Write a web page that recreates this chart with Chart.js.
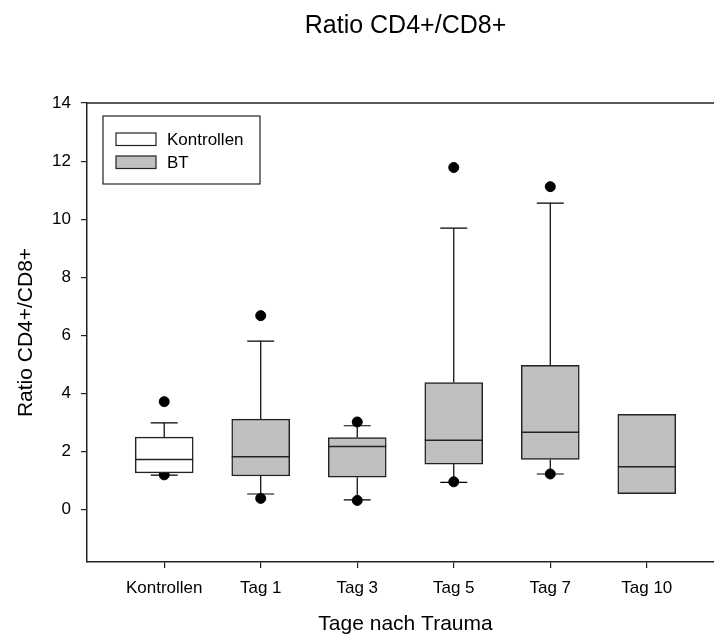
<!DOCTYPE html>
<html>
<head>
<meta charset="utf-8">
<title>Ratio CD4+/CD8+</title>
<script src="https://cdn.jsdelivr.net/npm/chart.js@4.4.1/dist/chart.umd.min.js"></script>
<style>
  html, body { margin: 0; padding: 0; background: #fff; overflow: hidden; }
  canvas { display: block; }
</style>
</head>
<body>
<canvas id="ratioChart" width="730" height="637"></canvas>
<script>
// Kennwerte der Boxplots je Gruppe
var kategorien = ['Kontrollen', 'Tag 1', 'Tag 3', 'Tag 5', 'Tag 7', 'Tag 10'];
var whiskerUnten = [1.19, 0.54, 0.34, 0.94, 1.23, null];
var quartil1 = [1.27, 1.16, 1.12, 1.57, 1.73, 0.55];
var median = [1.73, 1.82, 2.18, 2.39, 2.67, 1.48];
var quartil3 = [2.50, 3.12, 2.48, 4.38, 4.97, 3.28];
var whiskerOben = [2.99, 5.80, 2.89, 9.69, 10.55, null];
var ausreisserUnten = [1.20, 0.39, 0.32, 0.96, 1.23, null];
var ausreisserOben = [3.72, 6.68, 3.02, 11.78, 11.12, null];
var yTicks = [0, 2, 4, 6, 8, 10, 12, 14];

var linienFarbe = '#222';

Chart.defaults.font.family = "'Liberation Sans', Arial, sans-serif";
Chart.defaults.color = '#000';

// Boxen als schwebende Balken: [Q1, Q3]
function boxDaten(indices) {
    return indices.map(function(i) {
        return { x: i, y: [quartil1[i], quartil3[i]] };
    });
}

var punkte = [];
kategorien.forEach(function(k, i) {
    if (ausreisserUnten[i] != null) punkte.push({ x: i, y: ausreisserUnten[i] });
    if (ausreisserOben[i] != null) punkte.push({ x: i, y: ausreisserOben[i] });
});

// Whisker, Mediane, Rahmen oben und Legende
var boxplotPlugin = {
    id: 'boxplot',
    beforeDatasetsDraw: function(chart) {
        var ctx = chart.ctx, sx = chart.scales.x, sy = chart.scales.y;
        ctx.save();
        ctx.strokeStyle = '#000';
        ctx.lineWidth = 1.2;
        kategorien.forEach(function(k, i) {
            var px = sx.getPixelForValue(i);
            [[quartil1[i], whiskerUnten[i]], [quartil3[i], whiskerOben[i]]].forEach(function(p) {
                if (p[1] == null) return;
                var y0 = sy.getPixelForValue(p[0]);
                var y1 = sy.getPixelForValue(p[1]);
                ctx.beginPath();
                ctx.moveTo(px, y0);
                ctx.lineTo(px, y1);
                ctx.moveTo(px - 13.5, y1);
                ctx.lineTo(px + 13.5, y1);
                ctx.stroke();
            });
        });
        ctx.restore();
    },
    afterDatasetsDraw: function(chart) {
        var ctx = chart.ctx, sy = chart.scales.y;
        ctx.save();
        ctx.strokeStyle = linienFarbe;
        ctx.lineWidth = 1.5;
        chart.data.datasets.forEach(function(ds, d) {
            if (ds.type === 'scatter') return;
            var meta = chart.getDatasetMeta(d);
            meta.data.forEach(function(el, j) {
                var i = ds.data[j].x;
                var py = sy.getPixelForValue(median[i]);
                ctx.beginPath();
                ctx.moveTo(el.x - el.width / 2, py);
                ctx.lineTo(el.x + el.width / 2, py);
                ctx.stroke();
            });
        });
        // obere Rahmenlinie
        var a = chart.chartArea;
        ctx.lineWidth = 1.5;
        ctx.beginPath();
        ctx.moveTo(a.left, a.top);
        ctx.lineTo(a.right, a.top);
        ctx.stroke();
        ctx.restore();
    },
    afterDraw: function(chart) {
        var ctx = chart.ctx, a = chart.chartArea;
        var lx = a.left + 16, ly = a.top + 13;
        ctx.save();
        ctx.strokeStyle = linienFarbe;
        ctx.lineWidth = 1.2;
        ctx.fillStyle = '#fff';
        ctx.fillRect(lx, ly, 157, 68);
        ctx.strokeRect(lx, ly, 157, 68);
        ctx.font = "17px 'Liberation Sans', Arial, sans-serif";
        ctx.textBaseline = 'middle';
        chart.data.datasets.forEach(function(ds, d) {
            if (ds.type === 'scatter') return;
            var sy = ly + 17 + d * 23;
            ctx.fillStyle = ds.backgroundColor;
            ctx.fillRect(lx + 13, sy, 40, 12.5);
            ctx.strokeRect(lx + 13, sy, 40, 12.5);
            ctx.fillStyle = '#000';
            ctx.fillText(ds.label, lx + 64, sy + 7);
        });
        ctx.restore();
    }
};

var ctx = document.getElementById('ratioChart').getContext('2d');
var ratioChart = new Chart(ctx, {
    type: 'bar',
    data: {
        datasets: [{
            label: 'Kontrollen',
            data: boxDaten([0]),
            backgroundColor: '#ffffff',
            borderColor: linienFarbe,
            borderWidth: 1.5,
            borderSkipped: false,
            barThickness: 58,
            grouped: false,
            order: 1
        }, {
            label: 'BT',
            data: boxDaten([1, 2, 3, 4, 5]),
            backgroundColor: '#c0c0c0',
            borderColor: linienFarbe,
            borderWidth: 1.5,
            borderSkipped: false,
            barThickness: 58,
            grouped: false,
            order: 1
        }, {
            type: 'scatter',
            label: 'Ausreißer',
            data: punkte,
            backgroundColor: '#000',
            borderColor: '#000',
            pointRadius: 5,
            order: 2
        }]
    },
    options: {
        responsive: false,
        animation: false,
        layout: { padding: 0 },
        plugins: {
            legend: { display: false },
            tooltip: { enabled: false },
            title: {
                display: true,
                text: 'Ratio CD4+/CD8+',
                fullSize: false,
                font: { size: 25, weight: 'normal' },
                padding: { top: 11, bottom: 62 }
            }
        },
        scales: {
            x: {
                type: 'linear',
                min: -0.8,
                max: 5.8,
                offset: false,
                afterFit: function(s) { s.height = 75; },
                afterBuildTicks: function(s) {
                    s.ticks = kategorien.map(function(k, i) { return { value: i }; });
                },
                ticks: {
                    font: { size: 17 },
                    padding: 10,
                    maxRotation: 0,
                    autoSkip: false,
                    callback: function(v) { return kategorien[v]; }
                },
                grid: { drawOnChartArea: false, offset: false, tickLength: 6, color: linienFarbe, lineWidth: 1.2 },
                border: { color: linienFarbe, width: 1.5 },
                title: {
                    display: true,
                    text: 'Tage nach Trauma',
                    font: { size: 21 },
                    padding: { top: 0, bottom: 0 }
                }
            },
            y: {
                min: -1.8,
                max: 14,
                afterFit: function(s) { s.width = 87; },
                afterBuildTicks: function(s) {
                    s.ticks = yTicks.map(function(v) { return { value: v }; });
                },
                ticks: { font: { size: 17 }, padding: 10 },
                grid: { drawOnChartArea: false, tickLength: 6, color: linienFarbe, lineWidth: 1.2 },
                border: { color: linienFarbe, width: 1.5 },
                title: {
                    display: true,
                    text: 'Ratio CD4+/CD8+',
                    font: { size: 21 },
                    padding: { top: 14, bottom: 0 }
                }
            }
        }
    },
    plugins: [boxplotPlugin]
});
</script>
</body>
</html>
